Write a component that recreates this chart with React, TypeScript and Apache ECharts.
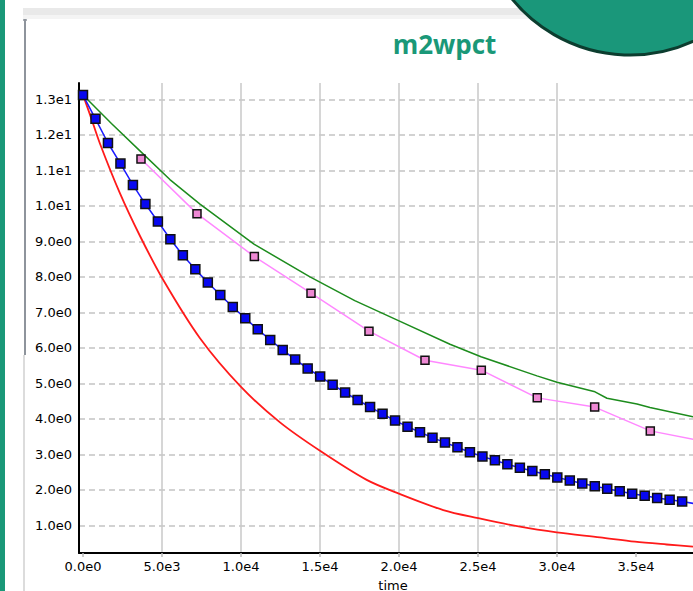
import React, { useEffect, useRef } from 'react';
import * as echarts from 'echarts';

// ---- data ----
const xTickValues = [0, 5000, 10000, 15000, 20000, 25000, 30000, 35000];
const yTickValues = [1, 2, 3, 4, 5, 6, 7, 8, 9, 10, 11, 12, 13];

const blueTime = [
  0, 790, 1580, 2370, 3160, 3950, 4740, 5530, 6320, 7110,
  7900, 8690, 9480, 10270, 11060, 11850, 12640, 13430, 14220, 15010,
  15800, 16590, 17380, 18170, 18960, 19750, 20540, 21330, 22120, 22910,
  23700, 24490, 25280, 26070, 26860, 27650, 28440, 29230, 30020, 30810,
  31600, 32390, 33180, 33970, 34760, 35550, 36340, 37130, 37920, 38710,
];
const blueValues = [
  13.12, 12.45, 11.77, 11.19, 10.59, 10.05, 9.56, 9.06, 8.61, 8.21,
  7.84, 7.49, 7.15, 6.83, 6.52, 6.22, 5.94, 5.67, 5.42, 5.19,
  4.96, 4.74, 4.53, 4.33, 4.14, 3.95, 3.78, 3.62, 3.47, 3.33,
  3.2, 3.06, 2.94, 2.83, 2.72, 2.62, 2.53, 2.44, 2.35, 2.26,
  2.18, 2.1, 2.03, 1.96, 1.89, 1.83, 1.77, 1.72, 1.67, 1.61,
];

const pinkTime = [3670, 7215, 10845, 14430, 18100, 21645, 25210, 28750, 32385, 35905, 39500];
const pinkValues = [11.32, 9.78, 8.57, 7.54, 6.47, 5.65, 5.37, 4.59, 4.33, 3.66, 3.35];

const greenTime = [0, 1800, 3670, 5500, 7405, 10820, 14367, 17200, 20000, 23228, 25190, 28733, 30000, 32405, 33163, 35063, 35886, 38608];
const greenValues = [13.12, 12.32, 11.52, 10.74, 10.05, 8.92, 8.0, 7.33, 6.76, 6.1, 5.75, 5.21, 5.03, 4.76, 4.58, 4.42, 4.32, 4.06];

const redTime = [0, 443, 1076, 2342, 3608, 5082, 7405, 10000, 12468, 15000, 17955, 19955, 22803, 25018, 27657, 29980, 32720, 34935, 36940, 38607];
const redValues = [13.12, 12.57, 11.75, 10.35, 9.15, 7.91, 6.27, 4.9, 3.9, 3.1, 2.28, 1.9, 1.43, 1.2, 0.96, 0.8, 0.66, 0.54, 0.46, 0.4];

const titleText = 'm2wpct';
const xAxisName = 'time';

const pairs = (xs: number[], ys: number[]) => xs.map((x, i) => [x, ys[i]]);

const expFmt = (step: number) => (v: number) => {
  const k = v / step;
  if (Math.abs(k - Math.round(k)) > 1e-6) return '';
  return v.toExponential(1).replace('+', '');
};

const TEAL = '#1a9878';
const LABEL_FONT = 'DejaVu Sans';

export default function App() {
  const ref = useRef<HTMLDivElement>(null);

  useEffect(() => {
    if (!ref.current) return;
    const chart = echarts.init(ref.current, null, { renderer: 'svg' });
    chart.setOption({
      animation: false,
      backgroundColor: '#ffffff',
      grid: { left: 79, top: 83, right: 0, bottom: 38, containLabel: false },
      graphic: [
        { type: 'rect', z: 1, shape: { x: 0, y: 0, width: 5, height: 591 }, style: { fill: TEAL } },
        { type: 'rect', z: 1, shape: { x: 23, y: 8, width: 670, height: 7 }, style: { fill: '#e9e9e9' } },
        { type: 'rect', z: 1, shape: { x: 23, y: 15, width: 670, height: 4 }, style: { fill: '#f4f4f4' } },
        { type: 'line', z: 1, shape: { x1: 25, y1: 19, x2: 25, y2: 355 }, style: { stroke: '#8e949c', lineWidth: 2 } },
        { type: 'line', z: 1, shape: { x1: 23, y1: 20, x2: 27, y2: 20 }, style: { stroke: '#8e949c', lineWidth: 1.5 } },
        { type: 'line', z: 1, shape: { x1: 24, y1: 355, x2: 24, y2: 591 }, style: { stroke: '#dcdcdc', lineWidth: 2 } },
        {
          type: 'circle', z: 10,
          shape: { cx: 630, cy: -97, r: 152 },
          style: { fill: '#1a977a', stroke: '#0c3d2f', lineWidth: 3 },
        },
        {
          type: 'text', z: 10, x: 444.5, y: 44,
          style: {
            text: titleText, fill: TEAL, fontFamily: 'Open Sans', fontWeight: 'bold', fontSize: 26,
            align: 'center', verticalAlign: 'middle',
          },
        },
        {
          type: 'text', z: 10, x: 393, y: 585,
          style: {
            text: xAxisName, fill: '#000', fontFamily: LABEL_FONT, fontSize: 13,
            align: 'center', verticalAlign: 'middle',
          },
        },
      ],
      xAxis: {
        type: 'value',
        min: -253,
        max: 38608,
        splitNumber: 8,
        axisLine: { show: true, onZero: false, lineStyle: { color: '#000', width: 2 } },
        axisTick: { show: true, length: 4, customValues: xTickValues, lineStyle: { color: '#b8b8b8', width: 1.5 } },
        axisLabel: {
          customValues: xTickValues,
          formatter: expFmt(5000),
          color: '#000', fontFamily: LABEL_FONT, fontSize: 13, margin: 7,
        },
        splitLine: {
          show: true, showMinLine: false, showMaxLine: false,
          lineStyle: { color: '#c8c8c8', width: 1.5, type: 'solid' },
        },
      },
      yAxis: {
        type: 'value',
        min: 0.22,
        max: 13.46,
        splitNumber: 13,
        axisLine: { show: true, onZero: false, lineStyle: { color: '#000', width: 2 } },
        axisTick: { show: false },
        axisLabel: {
          customValues: yTickValues,
          formatter: expFmt(1),
          color: '#000', fontFamily: LABEL_FONT, fontSize: 13, margin: 7,
        },
        splitLine: {
          show: true, showMinLine: false, showMaxLine: false,
          lineStyle: { color: '#c4c4c4', width: 1.5, type: [6, 4] },
        },
      },
      series: [
        {
          name: 'red', type: 'line', data: pairs(redTime, redValues), symbol: 'none',
          smooth: 0.3,
          lineStyle: { color: '#ff1a1a', width: 1.8 }, z: 2,
        },
        {
          name: 'green', type: 'line', data: pairs(greenTime, greenValues), symbol: 'none',
          lineStyle: { color: '#1d8c1d', width: 1.5 }, z: 3,
        },
        {
          name: 'pink', type: 'line', data: pairs(pinkTime, pinkValues),
          symbol: 'rect', symbolSize: 8, showAllSymbol: true,
          itemStyle: { color: '#ee88d4', borderColor: '#111', borderWidth: 1.5 },
          lineStyle: { color: '#ff88ff', width: 1.5 }, z: 4,
        },
        {
          name: 'blue', type: 'line', data: pairs(blueTime, blueValues),
          symbol: 'rect', symbolSize: 9, showAllSymbol: true,
          itemStyle: { color: '#0808f0', borderColor: '#111', borderWidth: 1.5 },
          lineStyle: { color: '#1a1aff', width: 1.5 }, z: 5,
        },
      ],
    });
    return () => chart.dispose();
  }, []);

  return (
    <div
      ref={ref}
      style={{ position: 'fixed', left: 0, top: 0, width: 693, height: 591, background: '#fff' }}
    />
  );
}
